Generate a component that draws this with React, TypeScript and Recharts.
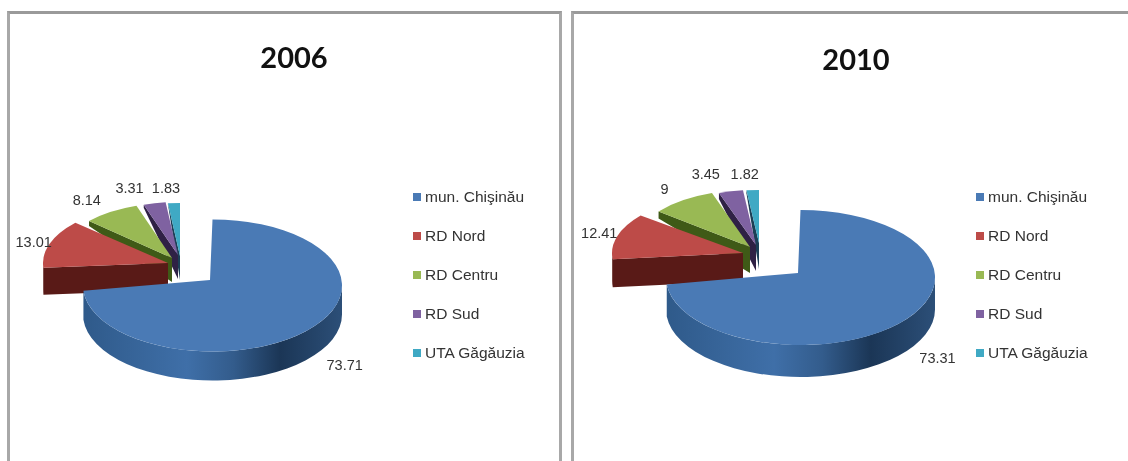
import React from 'react';
import { PieChart, Pie, Legend } from 'recharts';

// --- Data for the two pies ---
const regionNames = ['mun. Chişinău', 'RD Nord', 'RD Centru', 'RD Sud', 'UTA Găgăuzia'];
const values2006 = [73.71, 13.01, 8.14, 3.31, 1.83];
const values2010 = [73.31, 12.41, 9, 3.45, 1.82];

const TOP_COLORS = ['#4a7ab5', '#bd4b48', '#99b954', '#7f62a1', '#3fa9c4'];
const SIDE_COLORS = ['#2c5078', '#591a17', '#3f5a17', '#2f2145', '#1c3f56'];

// slice placement relative to the pie centre (explosion + perspective), same order as regionNames
type SliceStyle = { dx: number; dy: number; rx: number; ry: number; depth: number; rimDepth: number; apexX: number; apexY: number; labelX: number; labelY: number };

const slices2006: SliceStyle[] = [
  { dx: 32.5, dy: 27.5, rx: 129.5, ry: 66, depth: 29, rimDepth: 29, apexX: -2.5, apexY: -5.5, labelX: 37, labelY: 35 },
  { dx: -12, dy: 5, rx: 125, ry: 60, depth: 27, rimDepth: 27, apexX: 0, apexY: 0, labelX: -16, labelY: -2 },
  { dx: -8, dy: 0, rx: 112, ry: 55, depth: 24, rimDepth: 5, apexX: 0, apexY: 0, labelX: -24, labelY: -12 },
  { dx: -2, dy: -3, rx: 108, ry: 53, depth: 24, rimDepth: 3, apexX: 0, apexY: 0, labelX: -25, labelY: -15 },
  { dx: 0, dy: -2, rx: 105, ry: 53, depth: 24, rimDepth: 1, apexX: 0, apexY: 0, labelX: -8, labelY: -15 },
];

const slices2010: SliceStyle[] = [
  { dx: 41.5, dy: 34.5, rx: 134.5, ry: 67.5, depth: 32, rimDepth: 32, apexX: -2.5, apexY: -4.5, labelX: 37, labelY: 35 },
  { dx: -16, dy: 10, rx: 131, ry: 60, depth: 28, rimDepth: 28, apexX: 0, apexY: 0, labelX: -18, labelY: -3 },
  { dx: -9, dy: 4, rx: 117, ry: 57, depth: 26, rimDepth: 7, apexX: 0, apexY: 0, labelX: -18, labelY: -11 },
  { dx: -3, dy: 2, rx: 114, ry: 55, depth: 26, rimDepth: 6, apexX: 0, apexY: 0, labelX: -25, labelY: -17 },
  { dx: 0, dy: 0, rx: 110, ry: 53, depth: 26, rimDepth: 3, apexX: 0, apexY: 0, labelX: -8, labelY: -16 },
];

const RADIAN = Math.PI / 180;
const FONT = '"Liberation Sans", Arial, sans-serif';

// --- Pie needs the back slices first so the big one paints on top ---
const buildRows = (values: number[]) =>
  regionNames.map((name, i) => ({ name, value: values[i], fill: TOP_COLORS[i] })).reverse();

const rimPoint = (cx: number, cy: number, s: SliceStyle, angle: number) => ({
  x: cx + s.dx + s.rx * Math.cos(angle * RADIAN),
  y: cy + s.dy - s.ry * Math.sin(angle * RADIAN),
});

// --- Flat recharts sector redrawn as a tilted slice with walls ---
const makeSliceShape = (slices: SliceStyle[], gradientId: string) => (props: any) => {
  const { cx, cy, startAngle, endAngle, name } = props;
  const i = regionNames.indexOf(name);
  const s = slices[i];
  const a0 = Math.min(startAngle, endAngle);
  const a1 = Math.max(startAngle, endAngle);
  const apex = { x: cx + s.dx + s.apexX, y: cy + s.dy + s.apexY };
  const p0 = rimPoint(cx, cy, s, a0);
  const p1 = rimPoint(cx, cy, s, a1);
  const large = a1 - a0 > 180 ? 1 : 0;
  const top = `M${apex.x} ${apex.y}L${p0.x} ${p0.y}A${s.rx} ${s.ry} 0 ${large} 0 ${p1.x} ${p1.y}Z`;

  // outer wall, only the part of the rim that faces the viewer
  const w0 = Math.max(a0, 180);
  const w1 = Math.min(a1, 360);
  let wall = null;
  if (w1 > w0) {
    const q0 = rimPoint(cx, cy, s, w0);
    const q1 = rimPoint(cx, cy, s, w1);
    const d = `M${q0.x} ${q0.y}A${s.rx} ${s.ry} 0 0 0 ${q1.x} ${q1.y}L${q1.x} ${q1.y + s.depth}A${s.rx} ${s.ry} 0 0 1 ${q0.x} ${q0.y + s.depth}Z`;
    wall = <path d={d} fill={i === 0 ? `url(#${gradientId})` : SIDE_COLORS[i]} />;
  }

  // cut face of the slice, visible when its clockwise-leading edge is on the left
  const edge = a1 % 360;
  const face =
    edge > 90 && edge < 270 ? (
      <path
        d={`M${apex.x} ${apex.y}L${p1.x} ${p1.y}L${p1.x} ${p1.y + s.rimDepth}L${apex.x} ${apex.y + s.depth}Z`}
        fill={SIDE_COLORS[i]}
      />
    ) : null;

  return (
    <g>
      <defs>
        <linearGradient id={gradientId} x1="0" y1="0" x2="1" y2="0">
          <stop offset="0%" stopColor="#2f5a8a" />
          <stop offset="40%" stopColor="#3f6fa8" />
          <stop offset="58%" stopColor="#335c8c" />
          <stop offset="76%" stopColor="#1b3656" />
          <stop offset="100%" stopColor="#2c4f78" />
        </linearGradient>
      </defs>
      {face}
      {wall}
      <path d={top} fill={TOP_COLORS[i]} />
    </g>
  );
};

const makeLabel = (slices: SliceStyle[]) => (props: any) => {
  const { cx, cy, midAngle, name, value } = props;
  const s = slices[regionNames.indexOf(name)];
  const p = rimPoint(cx, cy, s, midAngle);
  return (
    <text
      x={p.x + s.labelX}
      y={p.y + s.labelY}
      textAnchor="middle"
      dominantBaseline="central"
      fill="#333333"
      fontSize={14.5}
      fontFamily={FONT}
    >
      {value}
    </text>
  );
};

const LegendList = () => (
  <div>
    {regionNames.map((name, i) => (
      <div key={name} style={{ display: 'flex', alignItems: 'center', height: 38.8 }}>
        <span style={{ width: 8, height: 8, background: TOP_COLORS[i], marginRight: 4, flex: 'none' }} />
        <span style={{ fontFamily: FONT, fontSize: 15.5, color: '#333333', whiteSpace: 'nowrap' }}>{name}</span>
      </div>
    ))}
  </div>
);

type PanelProps = {
  title: string;
  values: number[];
  slices: SliceStyle[];
  id: string;
  left: number;
  width: number;
  frameRight: boolean;
  pieX: number;
  pieY: number;
  titleX: number;
  titleY: number;
  legendX: number;
  legendY: number;
};

const Panel = ({ title, values, slices, id, left, width, frameRight, pieX, pieY, titleX, titleY, legendX, legendY }: PanelProps) => (
  <div
    style={{
      position: 'absolute',
      left,
      top: 11,
      width,
      height: 470,
      boxSizing: 'border-box',
      borderTop: '3px solid #9a9a9a',
      borderLeft: '3px solid #a8a8a8',
      borderRight: frameRight ? '3px solid #a8a8a8' : 'none',
      background: '#ffffff',
    }}
  >
    <div
      style={{
        position: 'absolute',
        left: titleX,
        top: titleY,
        transform: 'translate(-50%, -50%)',
        fontFamily: 'Lato, sans-serif',
        fontWeight: 700,
        fontSize: 29,
        color: '#111111',
      }}
    >
      {title}
    </div>
    <PieChart width={width - 3} height={450} margin={{ top: 0, right: 0, bottom: 0, left: 0 }}>
      <Pie
        data={buildRows(values)}
        dataKey="value"
        nameKey="name"
        cx={pieX}
        cy={pieY}
        outerRadius={110}
        startAngle={90}
        endAngle={450}
        stroke="none"
        isAnimationActive={false}
        labelLine={false}
        label={makeLabel(slices)}
        shape={makeSliceShape(slices, id)}
      />
      <Legend
        layout="vertical"
        align="right"
        verticalAlign="top"
        content={<LegendList />}
        wrapperStyle={{ left: legendX, top: legendY, width: 150 }}
      />
    </PieChart>
  </div>
);

export default function App() {
  return (
    <div
      style={{
        position: 'absolute',
        left: 0,
        top: 0,
        width: 1128,
        height: 461,
        overflow: 'hidden',
        background: '#ffffff',
        filter: 'blur(0.4px)',
      }}
    >
      <Panel
        title="2006"
        values={values2006}
        slices={slices2006}
        id="wall2006"
        left={7}
        width={555}
        frameRight
        pieX={170}
        pieY={244}
        titleX={284}
        titleY={42}
        legendX={403}
        legendY={164}
      />
      <Panel
        title="2010"
        values={values2010}
        slices={slices2010}
        id="wall2010"
        left={571}
        width={560}
        frameRight={false}
        pieX={185}
        pieY={229}
        titleX={282}
        titleY={44}
        legendX={402}
        legendY={164}
      />
    </div>
  );
}
